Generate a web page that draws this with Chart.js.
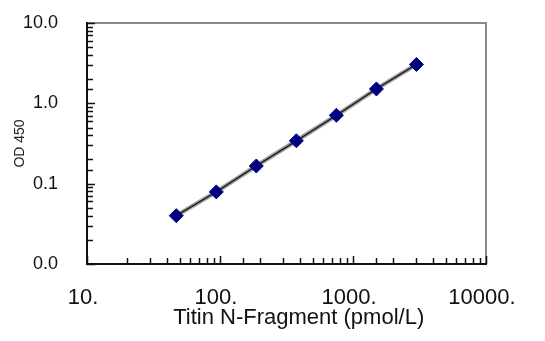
<!DOCTYPE html>
<html>
<head>
<meta charset="utf-8">
<script src="https://cdn.jsdelivr.net/npm/chart.js@4.4.1/dist/chart.umd.min.js"></script>
<style>
  html, body { margin: 0; padding: 0; background: #fff; }
</style>
</head>
<body>
<canvas id="odChart" width="545" height="341"></canvas>
<script>
// standard curve, 2-fold dilutions
const concentrations = [46.9, 93.8, 187.5, 375, 750, 1500, 3000];
const odValues = [0.04, 0.079, 0.166, 0.342, 0.71, 1.51, 3.05];

const xMajorTicks = [10, 100, 1000, 10000];
const xTickLabels = ['10.', '100.', '1000.', '10000.'];
const yMajorTicks = [0.01, 0.1, 1, 10];
const yTickLabels = ['0.0', '0.1', '1.0', '10.0'];

function majorIndex(value, majors) {
  return majors.findIndex(m => Math.abs(Math.log10(value) - Math.log10(m)) < 1e-6);
}

const points = concentrations.map((c, i) => ({ x: c, y: odValues[i] }));

// frame + inward tick marks like the original plot
const frameAndTicks = {
  id: 'frameAndTicks',
  afterDraw(chart) {
    const { ctx, chartArea: a, scales: { x, y } } = chart;
    ctx.save();
    ctx.strokeStyle = '#8a8a8a';
    ctx.lineWidth = 2;
    ctx.beginPath();
    ctx.moveTo(a.left, a.top);
    ctx.lineTo(a.right, a.top);
    ctx.lineTo(a.right, a.bottom);
    ctx.stroke();

    ctx.strokeStyle = '#111';
    ctx.lineWidth = 2;
    ctx.beginPath();
    ctx.moveTo(a.left, a.top - 1);
    ctx.lineTo(a.left, a.bottom);
    ctx.lineTo(a.right + 1, a.bottom);
    ctx.stroke();

    ctx.lineWidth = 1.5;
    ctx.beginPath();
    x.ticks.forEach(t => {
      const px = Math.round(x.getPixelForValue(t.value)) + 0.5;
      const len = majorIndex(t.value, xMajorTicks) >= 0 ? 8 : 6;
      ctx.moveTo(px, a.bottom);
      ctx.lineTo(px, a.bottom - len);
    });
    y.ticks.forEach(t => {
      const py = Math.round(y.getPixelForValue(t.value)) + 0.5;
      const len = majorIndex(t.value, yMajorTicks) >= 0 ? 8 : 6;
      ctx.moveTo(a.left, py);
      ctx.lineTo(a.left + len, py);
    });
    ctx.stroke();
    ctx.restore();
  }
};

const ctx = document.getElementById('odChart').getContext('2d');
new Chart(ctx, {
  type: 'scatter',
  data: {
    datasets: [{
      label: 'OD 450',
      data: points,
      showLine: true,
      borderColor: '#1e1e1e',
      borderWidth: 1.5,
      pointStyle: 'rectRot',
      pointRadius: 7,
      pointBackgroundColor: '#000080',
      pointBorderColor: '#000080',
      pointBorderWidth: 1
    }, {
      label: 'fit',
      data: points,
      showLine: true,
      borderColor: '#a5a5a5',
      borderWidth: 4.5,
      pointRadius: 0
    }]
  },
  options: {
    responsive: false,
    animation: false,
    layout: { padding: { top: 23, right: 59, bottom: 0, left: 0 } },
    plugins: {
      legend: { display: false },
      tooltip: { enabled: false }
    },
    scales: {
      x: {
        type: 'logarithmic',
        min: 10,
        max: 10000,
        afterFit: s => { s.height = 77; },
        grid: { display: false },
        border: { display: false },
        ticks: {
          autoSkip: false,
          maxRotation: 0,
          padding: 13,
          labelOffset: -4,
          color: '#111',
          font: { family: 'Liberation Sans, Arial, sans-serif', size: 22 },
          callback: function(value) {
            const i = majorIndex(value, xMajorTicks);
            return i >= 0 ? xTickLabels[i] : '';
          }
        },
        title: {
          display: true,
          text: '    Titin N-Fragment (pmol/L)',
          color: '#111',
          padding: { top: 0, bottom: 10 },
          font: { family: 'Liberation Sans, Arial, sans-serif', size: 22 }
        }
      },
      y: {
        type: 'logarithmic',
        min: 0.01,
        max: 10,
        afterFit: s => { s.width = 87; s.paddingTop = 0; s.paddingBottom = 0; },
        grid: { display: false },
        border: { display: false },
        ticks: {
          autoSkip: false,
          padding: 21,
          color: '#111',
          font: { family: 'Liberation Sans, Arial, sans-serif', size: 18 },
          callback: function(value) {
            const i = majorIndex(value, yMajorTicks);
            return i >= 0 ? yTickLabels[i] : '';
          }
        },
        title: {
          display: true,
          text: 'OD 450',
          color: '#222',
          padding: { top: 12, bottom: 0 },
          font: { family: 'Liberation Sans, Arial, sans-serif', size: 14 }
        }
      }
    }
  },
  plugins: [frameAndTicks]
});
</script>
</body>
</html>
